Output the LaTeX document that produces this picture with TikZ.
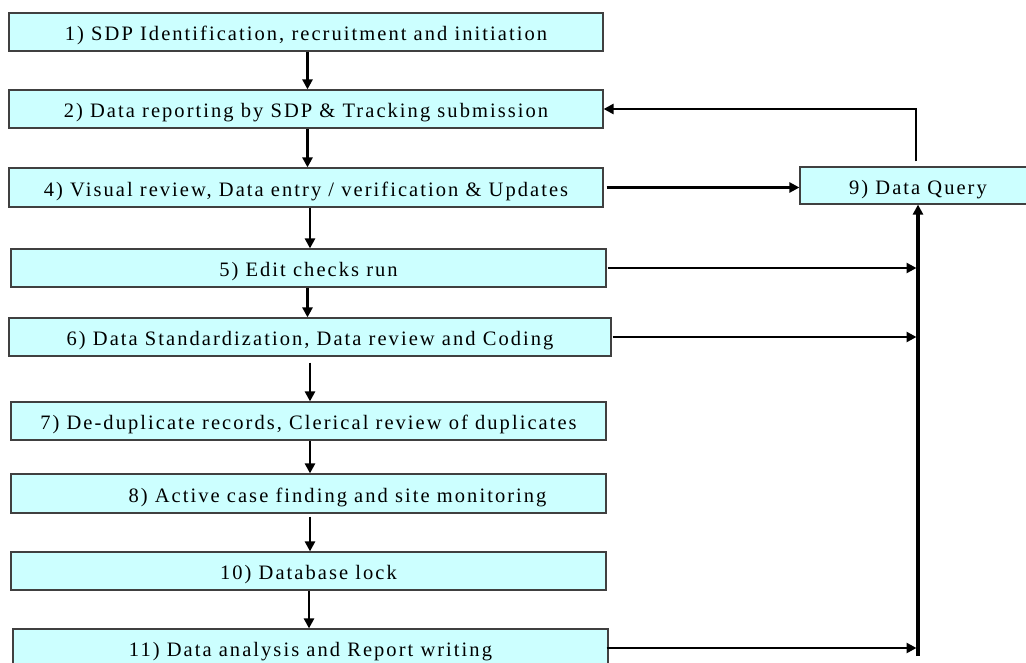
\documentclass[tikz,border=0pt]{standalone}
\usepackage{fontspec}
\setmainfont{Liberation Serif}[LetterSpace=10]
\usetikzlibrary{arrows.meta,calc}
\definecolor{boxfill}{HTML}{CCFFFF}
\definecolor{boxline}{HTML}{404040}
\begin{document}
\begin{tikzpicture}[x=1pt,y=-1pt,
  stepbox/.style={draw=boxline,line width=1.2pt,fill=boxfill,inner sep=0pt,
     minimum height=38pt,text height=19pt,text depth=1.6pt,
     font=\fontsize{20.5}{24}\selectfont},
  arr/.style={line width=2.5pt,-{Triangle[length=10pt,width=10pt]}},
  bus/.style={line width=3.8pt,-{Triangle[length=10pt,width=10pt]}}]
\useasboundingbox (0,0) rectangle (1026,663);
\clip (0,0) rectangle (1026,663);
\fill[white] (0,0) rectangle (1026,663);
\node[stepbox,minimum width=594pt] (b1) at (306,32) {1) SDP Identification, recruitment and initiation};
\node[stepbox,minimum width=594pt] (b2) at (306,109) {2) Data reporting by SDP \& Tracking submission};
\node[stepbox,minimum width=594pt,minimum height=39pt] (b4) at (306,187.5) {4) Visual review, Data entry / verification \& Updates};
\node[stepbox,minimum width=595pt] (b5) at (308.5,268) {5) Edit checks run};
\node[stepbox,minimum width=602pt] (b6) at (310,337) {6) Data Standardization, Data review and Coding};
\node[stepbox,minimum width=595pt] (b7) at (308.5,421) {7) De-duplicate records, Clerical review of duplicates};
\node[stepbox,minimum width=595pt,minimum height=39pt] (b8) at (308.5,493.5) {\hspace*{58pt}8) Active case finding and site monitoring};
\node[stepbox,minimum width=595pt] (b10) at (308.5,571) {10) Database lock};
\node[stepbox,minimum width=595pt] (b11) at (310.5,648) {11) Data analysis and Report writing};
\node[stepbox,minimum width=236pt,minimum height=37pt] (b9) at (918,185.5) {9) Data Query};
% main flow
\draw[arr] ([xshift=1.5pt]b1.south) -- ([xshift=1.5pt]b1.south |- b2.north);
\draw[arr] ([xshift=1.5pt]b2.south) -- ([xshift=1.5pt]b2.south |- b4.north);
\draw[arr] ([xshift=4pt]b4.south) -- ([xshift=4pt]b4.south |- b5.north);
\draw[arr] ([xshift=-1pt]b5.south) -- ([xshift=-1pt]b5.south |- b6.north);
\draw[arr,shorten <=6pt] (b6.south) -- (b6.south |- b7.north);
\draw[arr] ([xshift=1.5pt]b7.south) -- ([xshift=1.5pt]b7.south |- b8.north);
\draw[arr,shorten <=3pt] ([xshift=1.5pt]b8.south) -- ([xshift=1.5pt]b8.south |- b10.north);
\draw[arr] ([xshift=0.5pt]b10.south) -- ([xshift=0.5pt]b10.south |- b11.north);
% query loop
\coordinate (busbot) at (918,656);
\draw[arr] ([xshift=3pt]b4.east) -- (b9.west |- b4.east);
\draw[arr] ([yshift=5pt,xshift=-2pt]b9.north) |- (b2.east);
\draw[bus] (busbot) -- (b9.south);
\draw[arr] ([xshift=1pt]b5.east) -- ([xshift=-1.5pt]b5.east -| busbot);
\draw[arr] ([xshift=1pt]b6.east) -- ([xshift=-1.5pt]b6.east -| busbot);
\draw[arr] ([xshift=-2pt]b11.east) -- ([xshift=-1.5pt]b11.east -| busbot);
\end{tikzpicture}
\end{document}
